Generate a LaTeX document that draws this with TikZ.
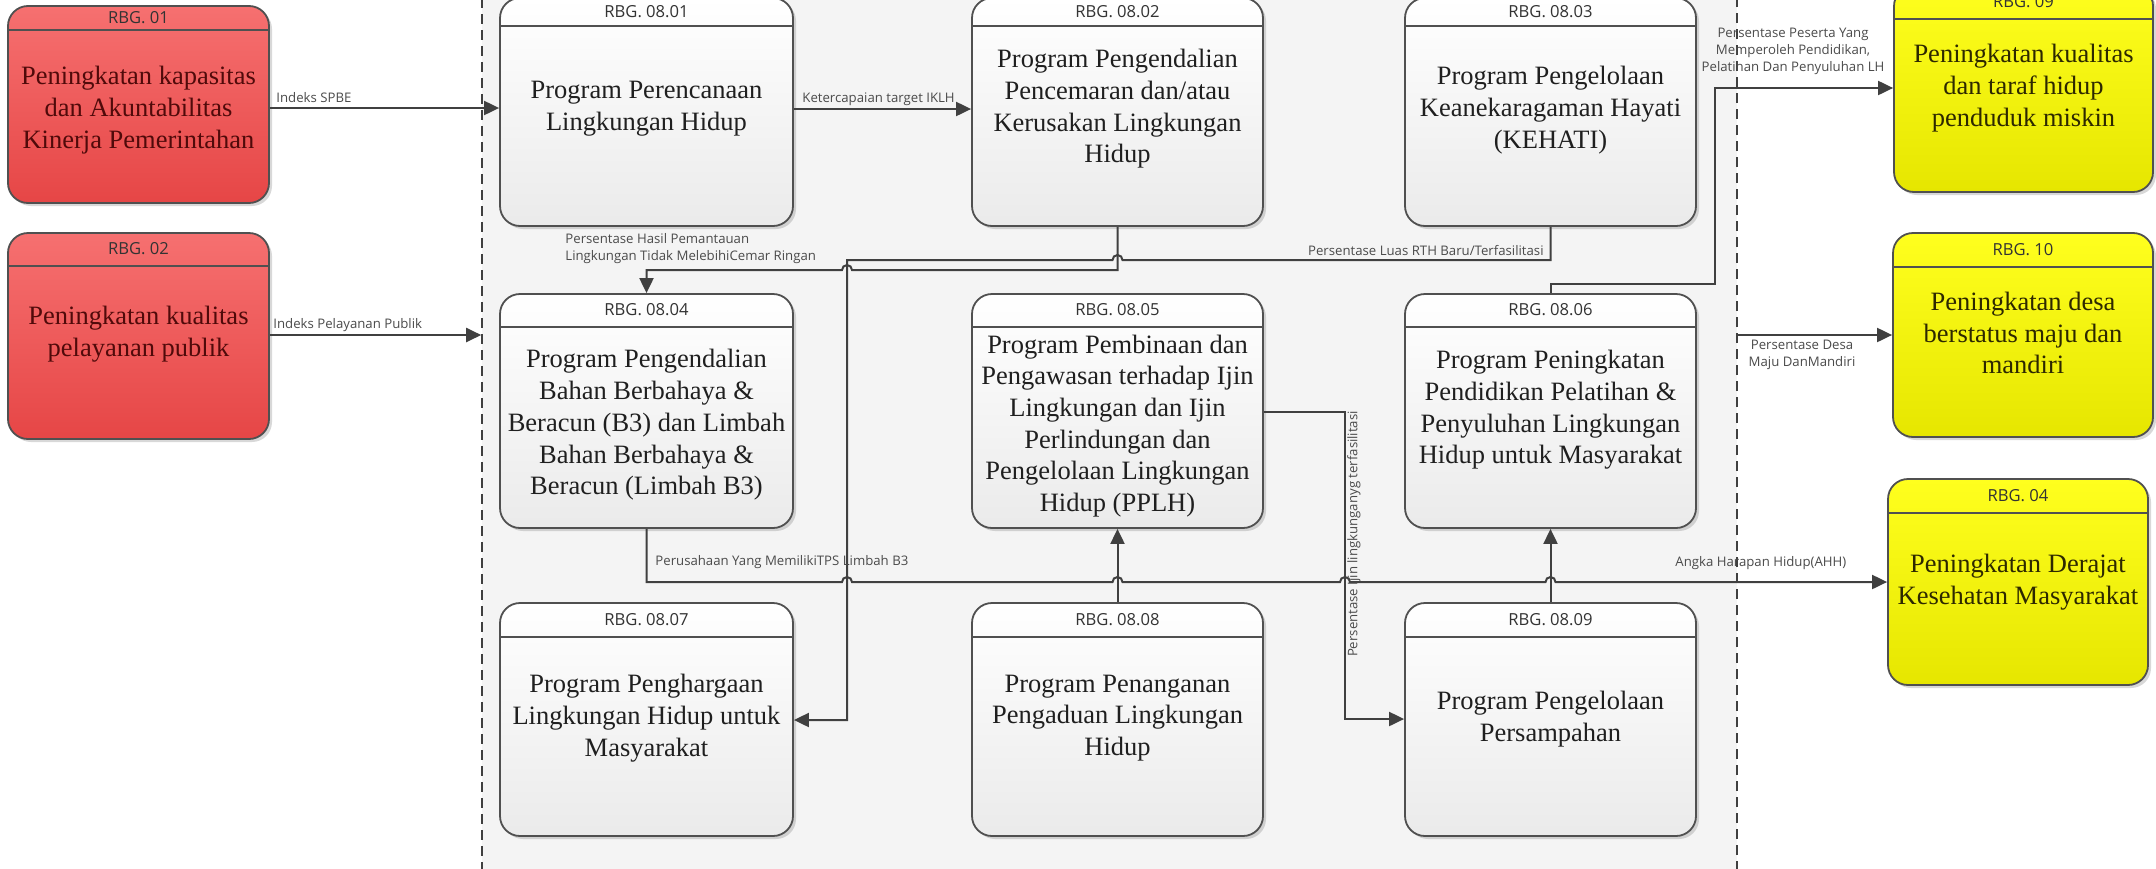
\documentclass[tikz,border=0pt]{standalone}
\usepackage{fontspec}
\setmainfont{Liberation Serif}
\newfontfamily\hdrfont{Open Sans}
\usetikzlibrary{arrows.meta,fit,shadows,calc}

\definecolor{bordc}{RGB}{80,80,80}
\definecolor{linec}{RGB}{64,64,64}
\definecolor{labc}{RGB}{75,75,75}
\definecolor{redtop}{RGB}{246,112,112}
\definecolor{redbot}{RGB}{230,70,70}
\definecolor{redtxt}{RGB}{80,10,10}
\definecolor{yeltop}{RGB}{255,255,30}
\definecolor{yelbot}{RGB}{230,230,0}
\definecolor{yeltxt}{RGB}{45,40,0}
\definecolor{conbg}{RGB}{244,244,244}

\tikzset{
 boxbase/.style={inner sep=0pt, rounded corners=10pt, draw=bordc, line width=0.9pt,
   drop shadow={opacity=0.3, shadow xshift=1.5pt, shadow yshift=-1.5pt}},
 progbox/.style={boxbase, top color=white, bottom color=gray!16},
 redbox/.style={boxbase, top color=redtop, bottom color=redbot},
 yelbox/.style={boxbase, top color=yeltop, bottom color=yelbot},
 hdrtext/.style={font=\hdrfont\fontsize{8.3pt}{10pt}\selectfont, text=black!80, inner sep=0pt},
 bodytext/.style={font=\fontsize{13.25pt}{15.85pt}\selectfont, align=center, inner sep=0pt},
 progtext/.style={bodytext, text=black!88},
 redtext/.style={bodytext, text=redtxt},
 yeltext/.style={bodytext, text=yeltxt},
 conn/.style={draw=linec, line width=1pt},
 arr/.style={conn, -{Triangle[length=7.5pt,width=7pt]}},
 lab/.style={font=\hdrfont\fontsize{6.6pt}{8.5pt}\selectfont, text=labc, inner sep=0pt},
 contbox/.style={inner sep=0pt, draw=linec, line width=0.8pt, dash pattern=on 5pt off 3pt, fill=conbg},
}

\newcommand{\mkbox}[8][prog]{%
 \node[#1box, fit={(#3) (#4)}] (#2) {};
 \draw[draw=bordc, line width=0.9pt] (#2.west |- 0,#5) -- (#2.east |- 0,#5);
 \node[hdrtext] (#2h) at ($(#2.north)!0.5!(#2.north |- 0,#5)$) {#6};
 \node[#1text] (#2b) at (#2.center |- 0,#7) {#8};
}

\begin{document}
\begin{tikzpicture}[x=0.5pt,y=-0.5pt]
\useasboundingbox (0,0) rectangle (2156,868);
\clip (0,0) rectangle (2156,868);
\fill[white] (0,0) rectangle (2156,868);

% container
\node[contbox, fit={(482,-10) (1737,880)}] (cont) {};

% outer boxes
\mkbox[red]{r01}{8,6}{269,203}{30}{RBG. 01}{110}{Peningkatan kapasitas\\dan Akuntabilitas\\Kinerja Pemerintahan}
\mkbox[red]{r02}{8,233}{269,439}{266}{RBG. 02}{334}{Peningkatan kualitas\\pelayanan publik}
\mkbox[yel]{r09}{1894,-14}{2153,192}{19}{RBG. 09}{88}{Peningkatan kualitas\\dan taraf hidup\\penduduk miskin}
\mkbox[yel]{r10}{1893,233}{2153,437}{267}{RBG. 10}{333}{Peningkatan desa\\berstatus maju dan\\mandiri}
\mkbox[yel]{r04}{1888,479}{2148,685}{513}{RBG. 04}{582}{Peningkatan Derajat\\Kesehatan Masyarakat}

% program boxes
\mkbox{p0801}{500,-2}{793,226}{26}{RBG. 08.01}{109}{Program Perencanaan\\Lingkungan Hidup}
\mkbox{p0802}{972,-2}{1263,226}{26}{RBG. 08.02}{109}{Program Pengendalian\\Pencemaran dan/atau\\Kerusakan Lingkungan\\Hidup}
\mkbox{p0803}{1405,-2}{1696,226}{26}{RBG. 08.03}{110}{Program Pengelolaan\\Keanekaragaman Hayati\\(KEHATI)}
\mkbox{p0804}{500,294}{793,528}{327}{RBG. 08.04}{425}{Program Pengendalian\\Bahan Berbahaya \&\\Beracun (B3) dan Limbah\\Bahan Berbahaya \&\\Beracun (Limbah B3)}
\mkbox{p0805}{972,294}{1263,528}{327}{RBG. 08.05}{426}{Program Pembinaan dan\\Pengawasan terhadap Ijin\\Lingkungan dan Ijin\\Perlindungan dan\\Pengelolaan Lingkungan\\Hidup (PPLH)}
\mkbox{p0806}{1405,294}{1696,528}{327}{RBG. 08.06}{410}{Program Peningkatan\\Pendidikan Pelatihan \&\\Penyuluhan Lingkungan\\Hidup untuk Masyarakat}
\mkbox{p0807}{500,603}{793,836}{637}{RBG. 08.07}{718}{Program Penghargaan\\Lingkungan Hidup untuk\\Masyarakat}
\mkbox{p0808}{972,603}{1263,836}{637}{RBG. 08.08}{718}{Program Penanganan\\Pengaduan Lingkungan\\Hidup}
\mkbox{p0809}{1405,603}{1696,836}{637}{RBG. 08.09}{719}{Program Pengelolaan\\Persampahan}

% connectors
\draw[arr] (r01.east |- 0,108) -- (p0801.west |- 0,108);
\draw[arr] (r02.east |- 0,335) -- (cont.west |- 0,335);
\draw[arr] (p0801.east |- 0,109) -- (p0802.west |- 0,109);

\draw[arr] (p0802.south) -- (p0802.south |- 0,270) -- (852,270)
  arc[start angle=0,end angle=180,radius=2.5pt] -- (p0804.north |- 0,270) -- (p0804.north);

\draw[arr] (p0803.south) -- (p0803.south |- 0,260) -- (1122.5,260)
  arc[start angle=0,end angle=180,radius=2.5pt] -- (847,260) -- (847,720) -- (p0807.east |- 0,720);

\draw[arr] (p0804.south) -- (p0804.south |- 0,582) -- (842,582)
  arc[start angle=180,end angle=0,radius=2.5pt] -- (1112.5,582)
  arc[start angle=180,end angle=0,radius=2.5pt] -- (1340,582)
  arc[start angle=180,end angle=0,radius=2.5pt] -- (1545.5,582)
  arc[start angle=180,end angle=0,radius=2.5pt] -- (r04.west |- 0,582);

\draw[arr] (p0805.east |- 0,412) -- (1345,412) -- (1345,719) -- (p0809.west |- 0,719);
\draw[arr] (p0808.north) -- (p0805.south);
\draw[arr] (p0809.north) -- (p0806.south);
\draw[arr] (p0806.north) -- (p0806.north |- 0,284) -- (1715,284) -- (1715,88) -- (r09.west |- 0,88);
\draw[arr] (cont.east |- 0,335) -- (r10.west |- 0,335);

% labels
\node[lab, anchor=west] (l1) at (276,98) {Indeks SPBE};
\node[lab, anchor=west] (l2) at (273,325) {Indeks Pelayanan Publik};
\node[lab, anchor=west] (l3) at (802,99) {Ketercapaian target IKLH};
\node[lab, anchor=west, align=left] (l4) at (565,249) {Persentase Hasil Pemantauan\\Lingkungan Tidak MelebihiCemar Ringan};
\node[lab, anchor=east] (l5) at (1544,251) {Persentase Luas RTH Baru/Terfasilitasi};
\node[lab, anchor=west] (l6) at (655,562) {Perusahaan Yang MemilikiTPS Limbah B3};
\node[lab, anchor=west] (l7) at (1675,563) {Angka Harapan Hidup(AHH)};
\node[lab, rotate=90] (l8) at (1354,534) {Persentase Ijin lingkunganyg terfasilitasi};
\node[lab, align=center] (l9) at (1793,51) {Persentase Peserta Yang\\Memperoleh Pendidikan,\\Pelatihan Dan Penyuluhan LH};
\node[lab, align=center] (l10) at (1802,355) {Persentase Desa\\Maju DanMandiri};
\end{tikzpicture}
\end{document}
